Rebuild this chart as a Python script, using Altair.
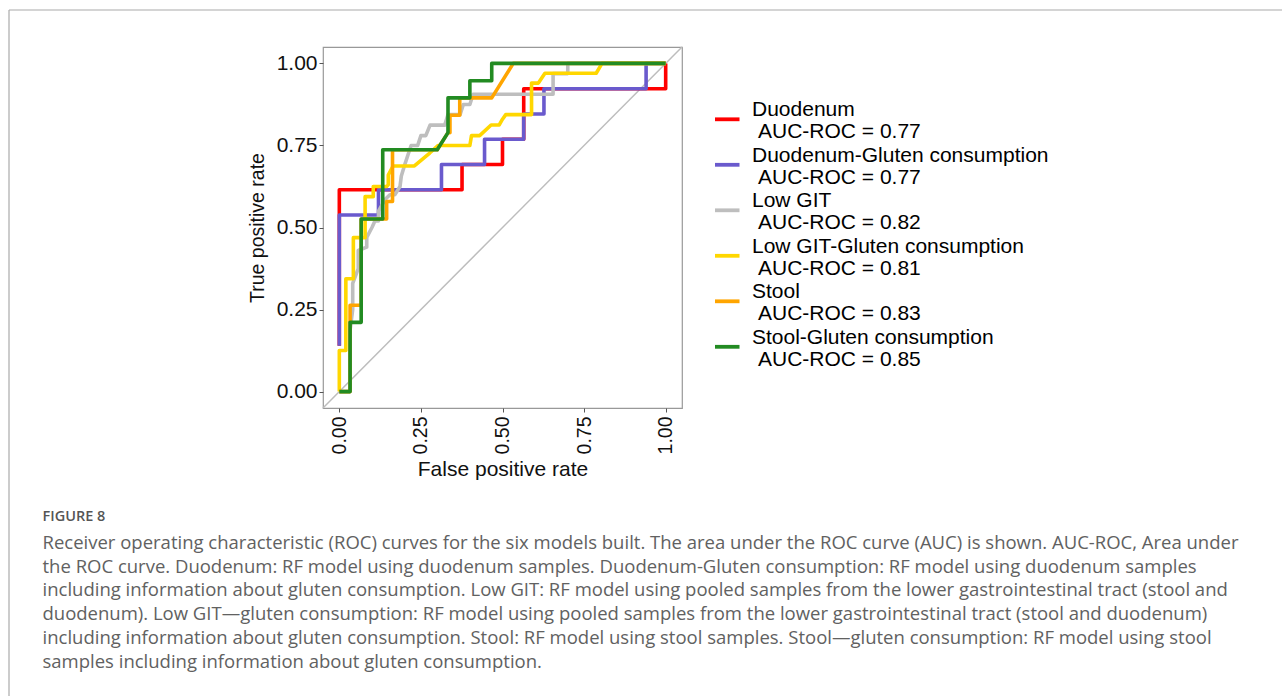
import altair as alt
import pandas as pd

# ---------------- data ----------------
models = ["Duodenum", "Duodenum-Gluten consumption", "Low GIT",
          "Low GIT-Gluten consumption", "Stool", "Stool-Gluten consumption"]
auc_labels = ["AUC-ROC = 0.77", "AUC-ROC = 0.77", "AUC-ROC = 0.82",
              "AUC-ROC = 0.81", "AUC-ROC = 0.83", "AUC-ROC = 0.85"]
colors = ["#FF0000", "#6A5ACD", "#BEBEBE", "#FFD700", "#FFA500", "#228B22"]

duo_fpr = [0, 0, 0.376, 0.376, 0.50, 0.50, 0.565, 0.565, 1.0, 1.0]
duo_tpr = [0.14, 0.615, 0.615, 0.692, 0.692, 0.769, 0.769, 0.923, 0.923, 1.0]

duog_fpr = [0, 0, 0.12, 0.12, 0.313, 0.313, 0.445, 0.445, 0.565, 0.565, 0.627, 0.627, 0.94, 0.94, 1.0]
duog_tpr = [0.14, 0.538, 0.538, 0.615, 0.615, 0.692, 0.692, 0.769, 0.769, 0.846, 0.846, 0.923, 0.923, 1.0, 1.0]

git_fpr = [0, 0.033, 0.033, 0.041, 0.041, 0.058, 0.058, 0.084, 0.084, 0.10, 0.109, 0.12, 0.12, 0.14,
           0.155, 0.17, 0.186, 0.19, 0.20, 0.21, 0.22, 0.24, 0.25, 0.265, 0.278, 0.323, 0.333, 0.37,
           0.38, 0.40, 0.41, 0.655, 0.655, 0.70, 0.70, 1.0]
git_tpr = [0, 0, 0.1875, 0.25, 0.33, 0.375, 0.43, 0.44, 0.47, 0.50, 0.52, 0.52, 0.55, 0.585,
           0.60, 0.60, 0.625, 0.657, 0.69, 0.72, 0.75, 0.75, 0.78, 0.78, 0.812, 0.812, 0.844, 0.844,
           0.875, 0.875, 0.906, 0.906, 0.969, 0.969, 1.0, 1.0]

gitg_fpr = [0, 0, 0.02, 0.02, 0.043, 0.043, 0.079, 0.079, 0.104, 0.104, 0.145, 0.15, 0.15, 0.165,
            0.23, 0.277, 0.303, 0.40, 0.405, 0.43, 0.465, 0.49, 0.50, 0.51, 0.589, 0.589, 0.61, 0.63,
            0.787, 0.805, 1.0]
gitg_tpr = [0, 0.125, 0.125, 0.344, 0.344, 0.469, 0.469, 0.594, 0.594, 0.625, 0.625, 0.63, 0.66, 0.6875,
            0.6875, 0.727, 0.75, 0.75, 0.78, 0.78, 0.8125, 0.8125, 0.83, 0.844, 0.844, 0.94, 0.94, 0.97,
            0.97, 1.0, 1.0]

st_fpr = [0, 0.033, 0.033, 0.067, 0.067, 0.145, 0.145, 0.163, 0.163, 0.30, 0.333, 0.339, 0.339,
          0.369, 0.369, 0.467, 0.533, 1.0]
st_tpr = [0, 0, 0.263, 0.263, 0.526, 0.526, 0.579, 0.579, 0.737, 0.737, 0.789, 0.789, 0.842,
          0.842, 0.895, 0.895, 1.0, 1.0]

stg_fpr = [0, 0.033, 0.033, 0.067, 0.067, 0.133, 0.133, 0.30, 0.333, 0.333, 0.40, 0.40, 0.467, 0.467, 1.0]
stg_tpr = [0, 0, 0.211, 0.211, 0.526, 0.526, 0.737, 0.737, 0.789, 0.895, 0.895, 0.947, 0.947, 1.0, 1.0]

curves_fpr = [duo_fpr, duog_fpr, git_fpr, gitg_fpr, st_fpr, stg_fpr]
curves_tpr = [duo_tpr, duog_tpr, git_tpr, gitg_tpr, st_tpr, stg_tpr]

ref_line = [-0.05, 1.05]
tick_values = [0, 0.25, 0.5, 0.75, 1.0]

figure_label = "FIGURE 8"
caption_lines = [
    "Receiver operating characteristic (ROC) curves for the six models built. The area under the ROC curve (AUC) is shown. AUC-ROC, Area under",
    "the ROC curve. Duodenum: RF model using duodenum samples. Duodenum-Gluten consumption: RF model using duodenum samples",
    "including information about gluten consumption. Low GIT: RF model using pooled samples from the lower gastrointestinal tract (stool and",
    "duodenum). Low GIT\u2014gluten consumption: RF model using pooled samples from the lower gastrointestinal tract (stool and duodenum)",
    "including information about gluten consumption. Stool: RF model using stool samples. Stool\u2014gluten consumption: RF model using stool",
    "samples including information about gluten consumption.",
]

# ---------------- layout ----------------
W, H = 1282, 696
PX, PY, PW, PH = 323, 47, 359, 361  # plot panel
FONT = "Liberation Sans"
CAP_FONT = "Open Sans"

xs = alt.Scale(domain=[-0.05, 1.05], nice=False, zero=False)
ys = alt.Scale(domain=[-0.05, 1.05], nice=False, zero=False)

xaxis = alt.Axis(values=tick_values, format=".2f", labelAngle=270, labelAlign="right",
                 labelBaseline="middle", labelFontSize=19.5, labelPadding=4, tickSize=4,
                 tickColor="#555555", domain=False, grid=False, labelFlush=False,
                 labelOverlap=False, title="False positive rate", titleFontSize=21,
                 titleFontWeight="normal", titlePadding=5, labelColor="#111111",
                 titleColor="#111111", labelFont=FONT, titleFont=FONT)
yaxis = alt.Axis(values=tick_values, format=".2f", labelFontSize=21, labelPadding=2,
                 tickSize=4, tickColor="#555555", domain=False, grid=False, labelFlush=False,
                 labelOverlap=False, title="True positive rate", titleFontSize=19.5,
                 titleFontWeight="normal", titlePadding=9, labelColor="#111111",
                 titleColor="#111111", labelFont=FONT, titleFont=FONT)


def xy():
    return dict(x=alt.X("fpr:Q", scale=xs, axis=xaxis), y=alt.Y("tpr:Q", scale=ys, axis=yaxis))


diag = alt.Chart(pd.DataFrame({"fpr": ref_line, "tpr": ref_line})).mark_line(
    color="#BDBDBD", strokeWidth=1.5).encode(**xy())

line_layers = []
for i, m in enumerate(models):
    df = pd.DataFrame({"fpr": curves_fpr[i], "tpr": curves_tpr[i],
                       "idx": list(range(len(curves_fpr[i]))), "model": m})
    line_layers.append(
        alt.Chart(df).mark_line(color=colors[i], strokeWidth=3.6, strokeCap="butt",
                                strokeJoin="round").encode(order=alt.Order("idx:Q"), **xy())
    )

# legend (manual, two-line labels)
key_y0, key_step = 119.3 - PY, 45.5
leg = pd.DataFrame({"model": models, "auc": auc_labels, "rank": list(range(len(models))),
                    "col": colors})
leg_base = alt.Chart(leg).transform_calculate(
    ky=f"{key_y0} + {key_step} * datum.rank",
    ny=f"{key_y0} + {key_step} * datum.rank - 3.3",
    ay=f"{key_y0} + {key_step} * datum.rank + 19",
)
leg_keys = leg_base.mark_rule(strokeWidth=3.8, strokeCap="butt").encode(
    x=alt.value(715 - PX), x2=alt.value(739.5 - PX),
    y=alt.Y("ky:Q", scale=None),
    color=alt.Color("col:N", scale=None),
)
leg_names = leg_base.mark_text(align="left", baseline="alphabetic", font=FONT, fontSize=21,
                               color="#000000").encode(
    x=alt.value(752 - PX), y=alt.Y("ny:Q", scale=None), text="model:N")
leg_auc = leg_base.mark_text(align="left", baseline="alphabetic", font=FONT, fontSize=21,
                             color="#000000").encode(
    x=alt.value(758 - PX), y=alt.Y("ay:Q", scale=None), text="auc:N")

# caption
cap = pd.DataFrame({"line": caption_lines, "i": list(range(len(caption_lines)))})
caption = alt.Chart(cap).transform_calculate(
    cy=f"{543 - PY} + 23.7 * datum.i"
).mark_text(align="left", baseline="middle", font=CAP_FONT, fontSize=18.5,
            color="#616161").encode(x=alt.value(42.5 - PX), y=alt.Y("cy:Q", scale=None),
                                    text="line:N")
figlab = alt.Chart(pd.DataFrame({"t": [figure_label]})).mark_text(
    align="left", baseline="middle", font=CAP_FONT, fontSize=14.5, fontWeight=600,
    color="#555555").encode(x=alt.value(42.5 - PX), y=alt.value(517 - PY), text="t:N")

one = pd.DataFrame({"a": [0]})
border_top = alt.Chart(one).mark_rule(color="#AAAAAA", strokeWidth=1.2).encode(
    x=alt.value(9 - PX), x2=alt.value(W - PX + 5), y=alt.value(10 - PY))
border_left = alt.Chart(one).mark_rule(color="#AAAAAA", strokeWidth=1.2).encode(
    x=alt.value(9 - PX), y=alt.value(10 - PY), y2=alt.value(H - PY + 5))

chart = alt.layer(
    diag, *line_layers, leg_keys, leg_names, leg_auc, caption, figlab, border_top, border_left
).properties(
    width=PW, height=PH,
    autosize=alt.AutoSizeParams(type="none"),
    padding={"left": PX, "top": PY, "right": W - PX - PW, "bottom": H - PY - PH},
    background="white",
).configure_view(stroke="#999999", strokeWidth=1.2)

chart.save("out.html", embed_options={"renderer": "svg", "actions": False})
